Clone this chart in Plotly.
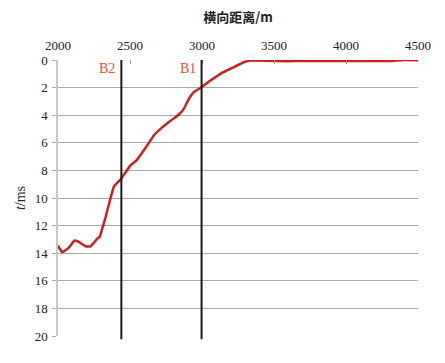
import plotly.graph_objects as go

distance_m = [2000, 2029, 2075, 2115, 2138, 2191, 2226, 2244, 2277, 2288, 2330, 2360, 2388,
              2439, 2503, 2545, 2619, 2665, 2712, 2770, 2816, 2839, 2874, 2909, 2943, 2997,
              3059, 3128, 3221, 3290, 3337, 3450, 3590, 3700, 3850, 4000, 4150, 4300, 4400, 4500]
time_ms = [13.45, 13.93, 13.6, 13.08, 13.15, 13.5, 13.5, 13.3, 12.9, 12.84, 11.4, 10.2, 9.17,
           8.6, 7.64, 7.28, 6.2, 5.47, 4.99, 4.5, 4.14, 3.95, 3.54, 2.81, 2.33, 1.97,
           1.49, 1.0, 0.52, 0.16, 0.04, 0.05, 0.09, 0.06, 0.08, 0.07, 0.08, 0.07, 0.0, 0.02]

boundary_names = ["B2", "B1"]
boundary_x = [2440, 2997]
label_x = [2337, 2906]
label_y = [0.64, 0.64]

x_ticks = [2000, 2500, 3000, 3500, 4000, 4500]
y_ticks = [0, 2, 4, 6, 8, 10, 12, 14, 16, 18, 20]

serif = "Liberation Serif, Times New Roman, serif"

fig = go.Figure()
fig.add_trace(go.Scatter(x=distance_m, y=time_ms, mode="lines",
                         line=dict(color="#cc1f1f", width=2.5, shape="spline", smoothing=0.3),
                         showlegend=False, hoverinfo="skip"))

for name, bx, lx, ly in zip(boundary_names, boundary_x, label_x, label_y):
    fig.add_shape(type="line", xref="x", yref="paper", x0=bx, x1=bx, y0=1, y1=-0.012,
                  line=dict(color="#1a1a1a", width=2))
    fig.add_annotation(x=lx, y=ly, xref="x", yref="y", text=name, showarrow=False,
                       font=dict(family=serif, size=14, color="#e8502a"))

fig.update_layout(
    width=445, height=363,
    margin=dict(l=49.5, r=35.3, t=51.5, b=35.3, autoexpand=False),
    paper_bgcolor="white", plot_bgcolor="white",
    title=dict(text="<b>横向距离/m</b>", xref="paper", x=0.5, xanchor="center",
               yref="container", y=1 - 9.5 / 363, yanchor="middle",
               font=dict(family="Noto Sans CJK SC", size=13, color="#222")),
    xaxis=dict(side="top", range=[2000, 4500], tickvals=x_ticks, ticktext=[str(v) for v in x_ticks],
               showgrid=False, zeroline=False, showline=False, automargin=False,
               ticks="inside", ticklen=4, tickcolor="#999", ticklabelstandoff=6,
               tickfont=dict(family=serif, size=13, color="#222")),
    yaxis=dict(range=[20, 0], tickvals=y_ticks, ticktext=[str(v) for v in y_ticks],
               showgrid=True, gridcolor="#aaaaaa", gridwidth=1, zeroline=False,
               showline=True, linecolor="#c8c8c8", linewidth=1.5, automargin=False,
               ticks="outside", ticklen=4, tickcolor="#aaaaaa", ticklabelstandoff=2,
               tickfont=dict(family=serif, size=13, color="#222"),
               title=dict(text="<i>t</i>/ms", standoff=6,
                          font=dict(family=serif, size=14, color="#222"))),
)

fig.write_html("out.html")
